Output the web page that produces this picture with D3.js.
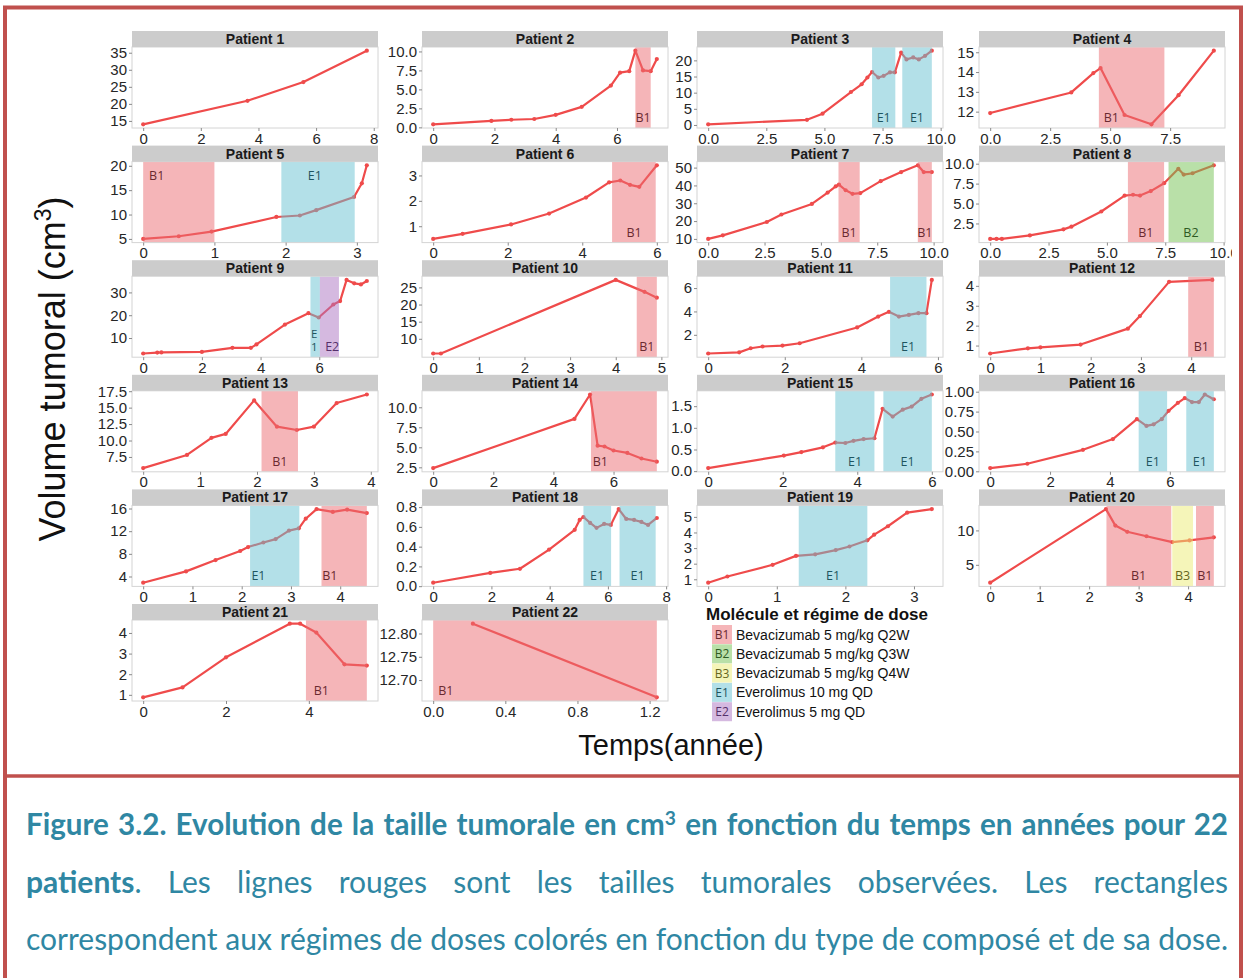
<!DOCTYPE html>
<html><head><meta charset="utf-8">
<script src="https://cdn.jsdelivr.net/npm/d3@7"></script>
<style>body{margin:0;background:#fff;} svg{display:block}</style>
</head><body>
<svg id="c" width="1247" height="978"></svg>
<script>
// ---------- DATA ----------
const t1=[0,3.62,5.56,7.76], v1=[14.0,20.9,26.4,35.6];
const t2=[0,1.9,2.55,3.3,4.0,4.85,5.8,6.1,6.4,6.6,6.85,7.1,7.3], v2=[0.4,0.85,1.0,1.1,1.65,2.7,5.5,7.2,7.4,10.1,7.5,7.4,9.0];
const t3=[0,4.25,4.92,6.14,6.6,6.85,7.05,7.32,7.55,7.82,8.03,8.3,8.53,8.82,9.06,9.33,9.62], v3=[0.2,1.6,3.5,10.2,12.6,14.7,16.4,14.7,15.2,16.3,16.3,22.4,20.3,20.9,20.3,21.4,23.0];
const t4=[0,3.38,4.3,4.6,5.6,6.72,7.85,9.32], v4=[11.93,12.97,13.95,14.2,11.83,11.36,12.83,15.08];
const t5=[0,0.5,0.96,1.87,2.2,2.43,2.96,3.07,3.14], v5=[5.0,5.55,6.5,9.5,9.8,10.9,13.6,16.4,20.1];
const t6=[0,0.79,2.09,3.11,4.1,4.72,5.02,5.28,5.53,6.0], v6=[0.5,0.7,1.07,1.5,2.13,2.73,2.8,2.63,2.55,3.4];
const t7=[0,0.65,2.6,3.25,4.6,5.3,5.66,5.8,6.1,6.4,6.75,7.65,8.56,9.3,9.56,9.92], v7=[10,12,19.5,23.7,29.6,36,39.5,40.5,37.3,35.3,35.7,42.4,47.5,51.3,47.5,47.5];
const t8=[0,0.27,0.5,1.7,3.14,3.48,4.76,5.76,6.12,6.42,6.88,7.45,8.06,8.29,8.67,9.58], v8=[0.56,0.56,0.56,1.0,1.76,2.1,4.0,6.0,6.1,6.0,6.56,7.55,9.36,8.63,8.8,9.8];
const t9=[0,0.48,0.62,2.0,3.04,3.67,3.86,4.83,5.63,5.98,6.48,6.71,6.93,7.19,7.42,7.62], v9=[3.2,3.6,3.7,3.9,5.7,5.7,7.2,15.9,20.9,19.0,24.7,26.2,35.5,34.0,33.5,35.0];
const t10=[0,0.17,4.0,4.63,4.9], v10=[5.7,5.7,27.2,23.7,22.0];
const t11=[0,0.81,1.11,1.42,1.94,2.39,3.89,4.44,4.72,4.98,5.24,5.49,5.7,5.84], v11=[0.4,0.5,0.85,1.0,1.08,1.28,2.63,3.56,3.97,3.56,3.7,3.85,3.85,6.7];
const t12=[0,0.75,1.0,1.8,2.74,2.98,3.56,4.42], v12=[0.6,0.86,0.91,1.05,1.85,2.48,4.2,4.3];
const t13=[0,0.77,1.2,1.45,1.95,2.35,2.7,3.0,3.4,3.93], v13=[5.8,7.8,10.4,11.0,16.1,12.1,11.6,12.1,15.7,17.0];
const t14=[0,4.7,5.22,5.47,5.7,6.0,6.46,6.93,7.44], v14=[2.4,8.55,11.6,5.2,5.1,4.6,4.3,3.6,3.2];
const t15=[0,2.03,2.5,3.08,3.41,3.68,3.9,4.17,4.46,4.68,4.95,5.22,5.46,5.72,6.0], v15=[0.07,0.36,0.44,0.55,0.66,0.65,0.70,0.74,0.76,1.44,1.26,1.42,1.49,1.67,1.77];
const t16=[0,1.24,3.1,4.1,4.9,5.22,5.46,5.73,5.96,6.27,6.5,6.74,6.97,7.17,7.47], v16=[0.04,0.095,0.27,0.405,0.655,0.57,0.59,0.655,0.76,0.86,0.92,0.87,0.87,0.965,0.905];
const t17=[0,0.87,1.47,1.97,2.13,2.44,2.69,2.96,3.16,3.3,3.52,3.85,4.14,4.54], v17=[2.9,4.9,6.9,8.5,9.2,10.0,10.6,12.1,12.5,14.2,15.9,15.4,15.8,15.2];
const t18=[0,1.96,2.98,3.98,4.86,5.03,5.16,5.39,5.61,5.87,6.1,6.37,6.63,6.9,7.15,7.38,7.68], v18=[0.035,0.134,0.176,0.37,0.57,0.67,0.7,0.64,0.59,0.63,0.62,0.78,0.68,0.67,0.65,0.62,0.69];
const t19=[0,0.28,0.94,1.28,1.56,1.86,2.06,2.32,2.42,2.62,2.9,3.26], v19=[0.78,1.18,1.93,2.5,2.6,2.87,3.1,3.5,3.86,4.4,5.27,5.5];
const t20=[0,2.34,2.53,2.77,3.16,3.68,4.03,4.52], v20=[2.4,13.1,10.7,9.8,9.15,8.3,8.55,9.0];
const t21=[0,0.95,2.0,3.54,3.79,4.18,4.86,5.4], v21=[0.88,1.36,2.82,4.45,4.45,4.02,2.48,2.42];
const t22=[0.22,1.24], v22=[12.821,12.663];

// regimens: [code, start, end, label x, label text]
const r1=[];
const r2=[["B1",6.6,7.1,6.85]];
const r3=[["E1",7.05,8.05,7.55],["E1",8.35,9.62,8.98]];
const r4=[["B1",4.53,7.26,5.05]];
const r5=[["B1",0,1.0,0.19],["E1",1.94,2.97,2.41]];
const r6=[["B1",4.8,5.97,5.39]];
const r7=[["B1",5.78,6.72,6.25],["B1",9.3,9.92,9.61]];
const r8=[["B1",5.9,7.45,6.67],["B2",7.64,9.58,8.6]];
const r9=[["E1",5.7,6.02,5.83,"E|1"],["E2",6.02,6.67,6.44]];
const r10=[["B1",4.46,4.9,4.68]];
const r11=[["E1",4.75,5.7,5.22]];
const r12=[["B1",3.94,4.45,4.2]];
const r13=[["B1",2.08,2.72,2.4]];
const r14=[["B1",5.25,7.44,5.56]];
const r15=[["E1",3.41,4.46,3.94],["E1",4.7,6.0,5.35]];
const r16=[["E1",4.96,5.91,5.43],["E1",6.55,7.47,7.0]];
const r17=[["E1",2.17,3.17,2.34],["B1",3.62,4.54,3.79]];
const r18=[["E1",5.16,6.11,5.63],["E1",6.4,7.64,7.02]];
const r19=[["E1",1.32,2.32,1.82]];
const r20=[["B1",2.35,3.66,3.0],["B3",3.68,4.1,3.89],["B1",4.16,4.52,4.34]];
const r21=[["B1",3.93,5.4,4.3]];
const r22=[["B1",0,1.24,0.07]];

const xt1=["0","2","4","6","8"], yt1=["15","20","25","30","35"];
const xt2=["0","2","4","6"], yt2=["0.0","2.5","5.0","7.5","10.0"];
const xt3=["0.0","2.5","5.0","7.5","10.0"], yt3=["0","5","10","15","20"];
const xt4=["0.0","2.5","5.0","7.5"], yt4=["12","13","14","15"];
const xt5=["0","1","2","3"], yt5=["5","10","15","20"];
const xt6=["0","2","4","6"], yt6=["1","2","3"];
const xt7=["0.0","2.5","5.0","7.5","10.0"], yt7=["10","20","30","40","50"];
const xt8=["0.0","2.5","5.0","7.5","10.0"], yt8=["2.5","5.0","7.5","10.0"];
const xt9=["0","2","4","6"], yt9=["10","20","30"];
const xt10=["0","1","2","3","4","5"], yt10=["10","15","20","25"];
const xt11=["0","2","4","6"], yt11=["2","4","6"];
const xt12=["0","1","2","3","4"], yt12=["1","2","3","4"];
const xt13=["0","1","2","3","4"], yt13=["7.5","10.0","12.5","15.0","17.5"];
const xt14=["0","2","4","6"], yt14=["2.5","5.0","7.5","10.0"];
const xt15=["0","2","4","6"], yt15=["0.0","0.5","1.0","1.5"];
const xt16=["0","2","4","6"], yt16=["0.00","0.25","0.50","0.75","1.00"];
const xt17=["0","1","2","3","4"], yt17=["4","8","12","16"];
const xt18=["0","2","4","6","8"], yt18=["0.0","0.2","0.4","0.6","0.8"];
const xt19=["0","1","2","3"], yt19=["1","2","3","4","5"];
const xt20=["0","1","2","3","4"], yt20=["5","10"];
const xt21=["0","2","4"], yt21=["1","2","3","4"];
const xt22=["0.0","0.4","0.8","1.2"], yt22=["12.70","12.75","12.80"];

const topLabelPatients=[5];

const legendCodes=["B1","B2","B3","E1","E2"];
const legendLabels=["Bevacizumab 5 mg/kg Q2W","Bevacizumab 5 mg/kg Q3W","Bevacizumab 5 mg/kg Q4W","Everolimus 10 mg QD","Everolimus 5 mg QD"];

// ---------- STYLE ----------
const fillCol={B1:"#eb6b71",B2:"#73c151",B3:"#ebeb73",E1:"#67c1d1",E2:"#ab73c1"};
const textCol={B1:"#6a2a30",B2:"#2e5a22",B3:"#66661e",E1:"#1e5560",E2:"#55306a"};
const LINE="#ef4b4b";
const FONT="'Liberation Sans', Arial, sans-serif";

const panels=[
 [t1,v1,r1,xt1,yt1],[t2,v2,r2,xt2,yt2],[t3,v3,r3,xt3,yt3],[t4,v4,r4,xt4,yt4],
 [t5,v5,r5,xt5,yt5],[t6,v6,r6,xt6,yt6],[t7,v7,r7,xt7,yt7],[t8,v8,r8,xt8,yt8],
 [t9,v9,r9,xt9,yt9],[t10,v10,r10,xt10,yt10],[t11,v11,r11,xt11,yt11],[t12,v12,r12,xt12,yt12],
 [t13,v13,r13,xt13,yt13],[t14,v14,r14,xt14,yt14],[t15,v15,r15,xt15,yt15],[t16,v16,r16,xt16,yt16],
 [t17,v17,r17,xt17,yt17],[t18,v18,r18,xt18,yt18],[t19,v19,r19,xt19,yt19],[t20,v20,r20,xt20,yt20],
 [t21,v21,r21,xt21,yt21],[t22,v22,r22,xt22,yt22]
];

const COLS=[132,422,697,979], PW=246, ST0=31, PITCH=114.6, SH=16, PH=81;

const svg=d3.select("#c");
const defs=svg.append("defs");
defs.append("clipPath").attr("id","chartClip").append("rect").attr("x",0).attr("y",0).attr("width",1232).attr("height",978);
const chart=svg.append("g").attr("clip-path","url(#chartClip)").style("font-family",FONT);

panels.forEach((p,i)=>{
  const [t,v,regs,xt,yt]=p;
  const col=i%4,row=Math.floor(i/4);
  const x0=COLS[col], st=ST0+row*PITCH, top=st+SH, bot=top+PH;
  const xe=d3.extent(t.concat(regs.flatMap(r=>[r[1],r[2]])));
  const xp=(xe[1]-xe[0])*0.05;
  const x=d3.scaleLinear().domain([xe[0]-xp,xe[1]+xp]).range([x0,x0+PW]);
  const ye=d3.extent(v); const yp=(ye[1]-ye[0])*0.05;
  const y=d3.scaleLinear().domain([ye[0]-yp,ye[1]+yp]).range([bot,top]);
  const g=chart.append("g");
  g.append("rect").attr("x",x0).attr("y",top).attr("width",PW).attr("height",PH).attr("fill","#fff");
  const cid="pc"+i;
  defs.append("clipPath").attr("id",cid).append("rect").attr("x",x0).attr("y",top).attr("width",PW).attr("height",PH);
  const inner=g.append("g").attr("clip-path",`url(#${cid})`);
  const data=t.map((d,k)=>[d,v[k]]);
  inner.append("path").datum(data).attr("d",d3.line().x(d=>x(d[0])).y(d=>y(d[1])))
    .attr("fill","none").attr("stroke",LINE).attr("stroke-width",2.2).attr("stroke-linejoin","round");
  inner.selectAll("circle").data(data).join("circle").attr("cx",d=>x(d[0])).attr("cy",d=>y(d[1])).attr("r",2.1).attr("fill",LINE);
  inner.selectAll("rect.reg").data(regs).join("rect").attr("class","reg")
    .attr("x",d=>x(d[1])).attr("width",d=>x(d[2])-x(d[1])).attr("y",top).attr("height",PH)
    .attr("fill",d=>fillCol[d[0]]).attr("opacity",0.5);
  const atTop=topLabelPatients.includes(i+1);
  regs.forEach(r=>{
    const txt=r[4]||r[0];
    const parts=txt.split("|");
    const fsz=parts.length>1?11.5:12.5, lh=13;
    const yy0 = atTop ? top+18 : bot-6-(parts.length-1)*lh;
    const tx=g.append("text").attr("x",x(r[3])).attr("y",yy0).attr("text-anchor","middle")
        .attr("font-family","'Open Sans', sans-serif").attr("font-size",fsz).attr("fill",textCol[r[0]]);
    parts.forEach((s,k)=>{
      tx.append("tspan").attr("x",x(r[3])).attr("dy",k===0?0:lh).text(s);
    });
  });
  g.append("rect").attr("x",x0).attr("y",top).attr("width",PW).attr("height",PH).attr("fill","none").attr("stroke","#d4d4d4").attr("stroke-width",1);
  // strip
  g.append("rect").attr("x",x0).attr("y",st).attr("width",PW).attr("height",SH).attr("fill","#cccccc");
  g.append("text").attr("x",x0+PW/2).attr("y",st+13).attr("text-anchor","middle").attr("font-weight","bold").attr("font-size",14).attr("fill","#1a1a1a").text("Patient "+(i+1));
  // axes
  const ax=g.append("g").attr("transform",`translate(0,${bot})`)
    .call(d3.axisBottom(x).tickValues(xt.map(Number)).tickFormat((d,k)=>xt[k]).tickSize(3).tickPadding(2));
  const ay=g.append("g").attr("transform",`translate(${x0},0)`)
    .call(d3.axisLeft(y).tickValues(yt.map(Number)).tickFormat((d,k)=>yt[k]).tickSize(3).tickPadding(2));
  [ax,ay].forEach(a=>{
    a.select(".domain").remove();
    a.selectAll(".tick line").attr("stroke","#8a8a8a");
    a.selectAll(".tick text").attr("fill","#262626").attr("font-size",15).attr("font-family",FONT);
  });
});

// axis titles
const ytl=chart.append("text").attr("transform","translate(65,369) rotate(-90)").attr("text-anchor","middle")
  .attr("font-size",36).attr("fill","#111");
ytl.append("tspan").text("Volume tumoral (cm");
ytl.append("tspan").attr("font-size",23).attr("dy",-14).text("3");
ytl.append("tspan").attr("dy",14).text(")");
chart.append("text").attr("x",671).attr("y",755).attr("text-anchor","middle").attr("font-size",29).attr("fill","#111").text("Temps(année)");

// legend
const lg=chart.append("g");
lg.append("text").attr("x",706).attr("y",620).attr("font-weight","bold").attr("font-size",17).attr("fill","#111").text("Molécule et régime de dose");
legendCodes.forEach((c,k)=>{
  const yy=625+k*19.3;
  lg.append("rect").attr("x",712).attr("y",yy).attr("width",20).attr("height",19).attr("fill",fillCol[c]).attr("opacity",0.5);
  lg.append("text").attr("x",722).attr("y",yy+14).attr("text-anchor","middle").attr("font-family","'Open Sans', sans-serif").attr("font-size",12).attr("fill",textCol[c]).text(c);
  lg.append("text").attr("x",736).attr("y",yy+14.5).attr("font-size",14).attr("fill","#111").text(legendLabels[k]);
});

// frame
const FR="#c0504d";
svg.append("rect").attr("x",5).attr("y",7.5).attr("width",1236).attr("height",1000).attr("fill","none").attr("stroke",FR).attr("stroke-width",4);
svg.append("line").attr("x1",5).attr("x2",1241).attr("y1",776).attr("y2",776).attr("stroke",FR).attr("stroke-width",3.5);

// caption
const TEAL="#2f87a3";
const cap=svg.append("g").attr("font-family","Lato, 'Open Sans', sans-serif").attr("font-size",26).attr("fill",TEAL);
const line3="correspondent aux régimes de doses colorés en fonction du type de composé et de sa dose.";
const L3=cap.append("text").attr("x",26).attr("y",950).text(line3);
const fs=26*1202/L3.node().getComputedTextLength();
cap.attr("font-size",fs);
function justify(textSel, full, target){
  const n=(full.match(/ /g)||[]).length;
  textSel.attr("word-spacing",0);
  const w=textSel.node().getComputedTextLength();
  textSel.attr("word-spacing",(target-w)/n);
}
const L1=cap.append("text").attr("x",26).attr("y",835).attr("font-weight","bold");
L1.append("tspan").text("Figure 3.2. Evolution de la taille tumorale en cm");
const sup=L1.append("tspan").attr("font-size",fs*0.65).attr("dy",-10).text("3");
L1.append("tspan").attr("dy",10).text(" en fonction du temps en années pour 22");
const w1=L1.node().getComputedTextLength();
const fs1=fs*1170/w1;
L1.attr("font-size",fs1); sup.attr("font-size",fs1*0.65);
justify(L1,"Figure 3.2. Evolution de la taille tumorale en cm3 en fonction du temps en années pour 22",1202);
const L2=cap.append("text").attr("x",26).attr("y",893);
L2.append("tspan").attr("font-weight","bold").text("patients");
L2.append("tspan").text(". Les lignes rouges sont les tailles tumorales observées. Les rectangles");
justify(L2,"patients. Les lignes rouges sont les tailles tumorales observées. Les rectangles",1202);
justify(L3,line3,1202);
</script>
</body></html>
